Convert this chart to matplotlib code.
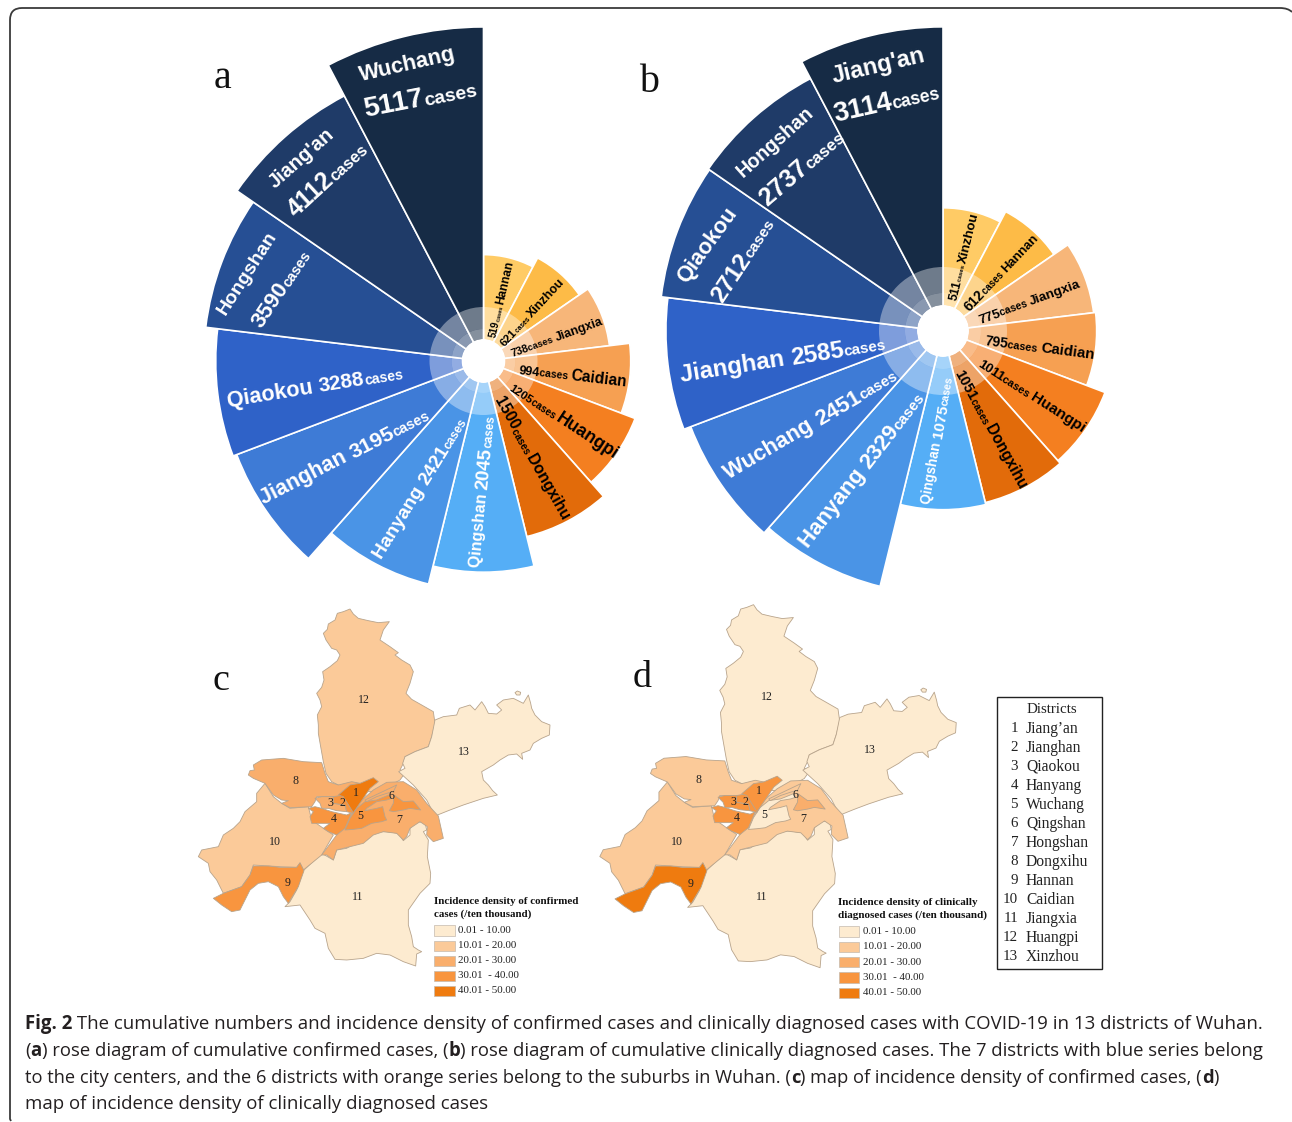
import numpy as np
import matplotlib
matplotlib.use("Agg")
import matplotlib.pyplot as plt
from matplotlib.font_manager import FontProperties
from matplotlib.patches import Polygon, Rectangle, PathPatch
from matplotlib.path import Path

# ---------- data ----------
districts_a = ["Hannan", "Xinzhou", "Jiangxia", "Caidian", "Huangpi", "Dongxihu", "Qingshan",
               "Hanyang", "Jianghan", "Qiaokou", "Hongshan", "Jiang'an", "Wuchang"]
cases_a = [519, 621, 738, 994, 1205, 1500, 2045, 2421, 3195, 3288, 3590, 4112, 5117]
districts_b = ["Xinzhou", "Hannan", "Jiangxia", "Caidian", "Huangpi", "Dongxihu", "Qingshan",
               "Hanyang", "Wuchang", "Jianghan", "Qiaokou", "Hongshan", "Jiang'an"]
cases_b = [511, 612, 775, 795, 1011, 1051, 1075, 2329, 2451, 2585, 2712, 2737, 3114]
rose_colors = ["#FFCB65", "#FDBB47", "#F7B679", "#F6A052", "#F47F20", "#E26B0A", "#55AEF6",
               "#4A94E6", "#3E7BD6", "#2F62C8", "#264F94", "#1F3B68", "#162B45"]
legend_labels = ["0.01 - 10.00", "10.01 - 20.00", "20.01 - 30.00", "30.01  - 40.00", "40.01 - 50.00"]
class_colors = ["#FDEBD0", "#FBCA99", "#F9AE6C", "#F8953F", "#EF7B0F"]
# density class of districts 1..13
density_c = [4, 3, 2, 3, 3, 3, 2, 2, 3, 1, 0, 1, 0]
density_d = [3, 3, 3, 3, 0, 2, 1, 1, 4, 1, 0, 0, 0]
district_names = ["Jiang\u2019an", "Jianghan", "Qiaokou", "Hanyang", "Wuchang", "Qingshan", "Hongshan",
                  "Dongxihu", "Hannan", "Caidian", "Jiangxia", "Huangpi", "Xinzhou"]

W, H = 1292, 1122
SANS, SERIF = "Liberation Sans", "Liberation Serif"
fig = plt.figure(figsize=(W / 100, H / 100), dpi=100, facecolor="white")
renderer = fig.canvas.get_renderer()


def rose(cx, cy, k, half, rings, values):
    ax = fig.add_axes([(cx - half) / W, 1 - (cy + half) / H, 2 * half / W, 2 * half / H],
                      projection="polar")
    ax.set_theta_zero_location("N")
    ax.set_theta_direction(-1)
    ax.set_rscale("function", functions=(np.sqrt, np.square))
    ax.set_ylim(0, (half / k) ** 2)
    n = len(values)
    step = 2 * np.pi / n
    ax.bar(np.arange(n) * step, values, width=step, align="edge", color=rose_colors,
           edgecolor="white", linewidth=1.2)
    hole, mid, outer = [(r / k) ** 2 for r in rings]
    ax.bar(0, outer - mid, width=2 * np.pi, bottom=mid, align="edge", color="white", alpha=0.38, lw=0)
    ax.bar(0, mid - hole, width=2 * np.pi, bottom=hole, align="edge", color="white", alpha=0.48, lw=0)
    ax.bar(0, hole, width=2 * np.pi, align="edge", color="white", lw=0)
    ax.set_axis_off()


rose(483.5, 361, 4.67, 345, (22, 32, 54), cases_a)
rose(943, 331, 5.45, 320, (26, 38, 64), cases_b)

px = fig.add_axes([0, 0, 1, 1], zorder=5)
px.set_xlim(0, W)
px.set_ylim(H, 0)
px.set_axis_off()
px.patch.set_alpha(0)


def adv(s, size, weight, family, style="normal"):
    fp = FontProperties(family=family, weight=weight, size=size * 0.72, style=style)
    w = lambda t: renderer.get_text_width_height_descent(t, fp, False)[0]
    return w("|" + s + "|") - w("||")


def run(p0, p1, parts, color="black", family=SANS, weight="bold", fit=True, baseline=False):
    """Lay out text parts (text, size[, weight]) adjacent along the line p0-p1."""
    p0, p1 = np.array(p0, float), np.array(p1, float)
    d = p1 - p0
    L = np.hypot(*d)
    d = d / L
    norm = np.array([-d[1], d[0]])
    parts = [(q[0], q[1], q[2] if len(q) > 2 else weight) for q in parts]
    total = sum(adv(t, s, w_, family) for t, s, w_ in parts)
    scale = L / total if fit else 1.0
    rot = np.degrees(np.arctan2(-d[1], d[0]))
    mx = max(s for _, s, _ in parts) * scale
    pos = p0 + (0 if baseline else 0.35 * mx) * norm
    for t, s, w_ in parts:
        s2 = s * scale
        px.text(pos[0], pos[1], t, fontsize=s2 * 0.72, fontweight=w_, family=family, color=color,
                rotation=rot, rotation_mode="anchor", ha="left", va="baseline")
        pos = pos + d * adv(t, s2, w_, family)


def rose_labels(names, vals, ox, layout):
    conv = lambda q: (q[0] / 3 + ox, q[1] / 2.74 + 20)
    for i, (nm, v, lay) in enumerate(zip(names, vals, layout)):
        col = "black" if i < 6 else "white"
        if i < 6:
            a, b, sv, sc, sn = lay
            run(conv(a), conv(b), [(str(v), sv), ("cases ", sc), (nm, sn)], col)
        elif i < 10:
            a, b, sn, sv, sc = lay
            run(conv(a), conv(b), [(nm + " ", sn), (str(v), sv), ("cases", sc)], col)
        else:
            a, b, c, e, sv, sc = lay
            run(conv(a), conv(b), [(nm, 20)], col)
            run(conv(c), conv(e), [(str(v), sv), ("cases", sc)], col)


rose_labels(districts_a, cases_a, 190, [
    ((905, 868), (958, 660), 9, 5, 11),
    ((935, 888), (1115, 712), 11, 6.5, 12),
    ((962, 912), (1235, 822), 11, 9.5, 12.5),
    ((988, 955), (1312, 990), 12, 10, 15),
    ((965, 1000), (1280, 1190), 11, 9.5, 17),
    ((925, 1035), (1130, 1365), 15, 9.5, 15),
    ((850, 1500), (893, 1085), 14.5, 17, 10.5),
    ((558, 1470), (815, 1090), 19, 19, 12),
    ((210, 1310), (710, 1075), 21, 20.8, 14),
    ((112, 1040), (640, 962), 21, 20, 13.7),
    ((90, 800), (245, 580), (195, 835), (345, 630), 21, 13.5),
    ((240, 450), (420, 305), (300, 525), (520, 340), 24, 16),
    ((507, 148), (795, 88), (520, 240), (858, 180), 26, 18),
])
rose_labels(districts_b, cases_b, 650, [
    ((905, 768), (970, 530), 12, 6, 13),
    ((948, 790), (1155, 590), 13, 9, 12),
    ((985, 820), (1288, 720), 13, 10, 13),
    ((1005, 875), (1332, 915), 13, 10, 14),
    ((990, 935), (1305, 1120), 12, 10, 14),
    ((928, 960), (1120, 1280), 14, 9.5, 15),
    ((825, 1325), (893, 975), 11.5, 13, 9),
    ((455, 1435), (808, 1020), 22, 22, 15),
    ((225, 1240), (735, 965), 22, 22, 15),
    ((90, 970), (705, 880), 22, 22, 14),
    ((90, 710), (245, 515), (195, 765), (355, 545), 21, 13.5),
    ((265, 420), (480, 245), (335, 495), (570, 310), 24, 16),
    ((545, 150), (825, 90), (550, 255), (868, 190), 25, 16),
])

# ---------- map outlines (traced, in crop pixels) ----------
z5 = lambda pts: [(x, y + 420) for x, y in pts]
z6 = lambda pts: [(x + 330, y) for x, y in pts]
shapes = {
    12: z6([(150, 27), (130, 35), (112, 40), (105, 60), (85, 72), (82, 88), (70, 100), (78, 120), (95, 145),
            (110, 150), (120, 165), (112, 182), (90, 200), (68, 215), (72, 240), (65, 262), (50, 280), (60, 300),
            (65, 320), (52, 345), (55, 375), (55, 400), (62, 440), (70, 485), (78, 520), (95, 545), (125, 560),
            (150, 575), (235, 575), (300, 540), (318, 515), (300, 510), (310, 490), (315, 470), (345, 455),
            (385, 440), (395, 410), (405, 370), (400, 335), (365, 315), (335, 298), (318, 280), (330, 250),
            (340, 215), (330, 195), (305, 180), (285, 165), (295, 158), (270, 140), (240, 120), (250, 90),
            (268, 65), (235, 68), (205, 62), (175, 55), (160, 42)]),
    13: z6([(405, 360), (430, 350), (470, 345), (478, 325), (510, 315), (525, 330), (545, 305), (555, 320),
            (565, 340), (590, 342), (605, 330), (590, 315), (610, 300), (640, 295), (670, 310), (685, 285),
            (692, 310), (695, 325), (705, 345), (725, 365), (750, 375), (748, 405), (725, 415), (700, 430),
            (690, 450), (665, 460), (668, 478), (650, 462), (625, 465), (600, 480), (580, 495), (545, 515),
            (550, 540), (565, 555), (578, 572), (592, 585), (550, 595), (490, 615), (450, 630), (405, 648),
            (380, 600), (340, 555), (296, 515), (315, 505), (308, 490), (315, 470), (345, 455), (385, 440),
            (395, 410)]),
    "island": z6([(645, 278), (652, 273), (662, 277), (660, 285), (650, 285)]),
    11: [(340, 812), (395, 760), (430, 780), (440, 750), (470, 745), (495, 730), (530, 720), (555, 695), (590, 695),
         (625, 700), (640, 722), (660, 705), (660, 685), (680, 665), (705, 668), (710, 690), (700, 695), (715, 720),
         (712, 770), (722, 820), (720, 850), (690, 880), (655, 930), (655, 975), (665, 1010), (670, 1040),
         (685, 1050), (695, 1055), (680, 1062), (677, 1098), (640, 1085), (600, 1065), (560, 1060), (520, 1075),
         (470, 1080), (435, 1078), (415, 1045), (405, 1000), (375, 985), (360, 960), (330, 915), (285, 920),
         (300, 905), (320, 870)],
    10: z5([(25, 350), (35, 330), (85, 320), (100, 285), (130, 265), (150, 245), (165, 215), (200, 185), (200, 160),
            (225, 130), (250, 170), (275, 190), (300, 205), (355, 200), (365, 240), (400, 265), (430, 285),
            (395, 345), (340, 390), (330, 370), (320, 382), (270, 380), (190, 375), (180, 405), (155, 440),
            (100, 460), (90, 440), (80, 420), (60, 395), (55, 370)]),
    8: z5([(190, 75), (215, 60), (280, 55), (340, 65), (395, 68), (405, 100), (415, 125), (445, 135), (485, 125),
           (510, 130), (480, 170), (420, 170), (380, 170), (375, 185), (365, 200), (300, 203), (275, 190), (295, 182),
           (275, 180), (250, 165), (225, 130), (190, 115), (175, 105), (180, 92), (193, 90)]),
    9: z5([(190, 378), (235, 378), (270, 382), (320, 382), (330, 368), (342, 392), (325, 440), (295, 490), (280, 470),
           (265, 440), (235, 425), (205, 430), (180, 450), (150, 510), (125, 515), (95, 495), (70, 475), (100, 460),
           (155, 440), (180, 405)]),
    7: z5([(395, 345), (440, 285), (480, 230), (510, 185), (550, 150), (590, 127), (640, 125), (680, 150), (710, 190),
           (745, 228), (760, 295), (730, 305), (710, 285), (712, 260), (690, 245), (660, 265), (650, 290), (640, 300),
           (620, 280), (580, 275), (550, 285), (520, 310), (480, 320), (440, 330), (430, 360), (410, 345)]),
    5: z5([(465, 270), (480, 235), (500, 205), (525, 185), (560, 180), (597, 165), (605, 175), (590, 180), (560, 185),
           (530, 205), (525, 212), (560, 205), (578, 200), (585, 230), (590, 240), (575, 245), (545, 250), (515, 265),
           (490, 268)]),
    6: z5([(598, 212), (610, 190), (612, 165), (640, 185), (670, 183), (692, 210), (660, 205), (640, 210), (610, 215)]),
    4: z5([(355, 205), (375, 200), (395, 205), (425, 215), (470, 225), (485, 218), (465, 265), (440, 285), (415, 275),
           (400, 265), (420, 250), (365, 250), (360, 230), (370, 215)]),
    3: z5([(375, 175), (395, 170), (430, 170), (430, 190), (465, 195), (470, 215), (440, 212), (415, 205), (395, 205),
           (390, 190)]),
    2: z5([(430, 170), (460, 165), (495, 205), (490, 220), (470, 215), (465, 195), (430, 190)]),
    1: z5([(445, 165), (480, 135), (510, 130), (550, 113), (565, 125), (540, 145), (520, 175), (490, 218), (460, 170)]),
}
sliver = z5([(525, 180), (620, 135), (610, 155), (590, 160), (560, 170), (530, 185)])
draw_order = [12, 13, "island", 11, 10, 8, 9, 7, 5, 6, 4, 3, 2, 1]
num_c = {1: (497, 578), 2: (457, 610), 3: (420, 610), 4: (430, 657), 5: (512, 648), 6: (603, 587), 7: (627, 660),
         8: (317, 543), 9: (293, 850), 10: (254, 727), 11: (503, 890), 12: (521, 300), 13: (823, 457)}
EDGE = "#B8A48C"


def draw_map(density, tf):
    for key in draw_order:
        pts = np.array([tf(x, y) for x, y in shapes[key]])
        dclass = density[(13 if key == "island" else key) - 1]
        px.add_patch(Polygon(pts, closed=True, fc=class_colors[dclass], ec=EDGE, lw=0.6, joinstyle="round"))
    pts = np.array([tf(x, y) for x, y in sliver])
    px.add_patch(Polygon(pts, closed=True, fc=class_colors[density[6]], ec=EDGE, lw=0.6, joinstyle="round"))
    for k, (x, y) in num_c.items():
        X, Y = tf(x, y)
        px.text(X, Y, str(k), family=SERIF, fontsize=8.6, ha="center", va="center", color="#222222")


draw_map(density_c, lambda x, y: (190 + x / 3, 600 + y / 3))
draw_map(density_d, lambda x, y: (590 + (75 + (x - 70) * 1.0136) / 3, 600 + (15 + (y - 28) * 1.017) / 3))


def map_legend(x, title1, title2, xend1, xend2, ys, tx):
    run((x, ys[0] - 30), (xend1, ys[0] - 30), [(title1, 11)], "#111111", SERIF)
    run((x, ys[0] - 17), (xend2, ys[0] - 17), [(title2, 11)], "#111111", SERIF)
    for y, lab, col in zip(ys, legend_labels, class_colors):
        px.add_patch(Rectangle((x, y - 5.2), 20.5, 10.4, fc=col, ec="#C4BAAE", lw=0.5))
        px.text(tx, y, lab, family=SERIF, fontsize=7.9, ha="left", va="center", color="#222222")


map_legend(434, "Incidence density of confirmed", "cases (/ten thousand)", 578.5, 531.5,
           [930.3, 945.7, 960.7, 975.7, 990.7], 457.7)
map_legend(838.5, "Incidence density of clinically", "diagnosed cases (/ten thousand)", 979, 988.5,
           [931.3, 946.7, 962, 977.3, 992.7], 862.7)

# districts box
px.add_patch(Rectangle((997.3, 696.7), 104.4, 272.6, fc="white", ec="#222222", lw=1.0))
px.text(1051.7, 709.3, "Districts", family=SERIF, fontsize=10.8, ha="center", va="center", color="#222222")
for i, nm in enumerate(district_names):
    y = 728.7 + i * 19.0
    px.text(1018, y, str(i + 1), family=SERIF, fontsize=10.8, ha="right", va="center", color="#222222")
    px.text(1026, y, nm, family=SERIF, fontsize=11.2, ha="left", va="center", color="#222222")

# panel letters
for t, x, y, s in [("a", 214, 88, 40), ("b", 639, 92, 40), ("c", 212, 690, 38), ("d", 633, 687, 38)]:
    px.text(x, y, t, family=SERIF, fontsize=s * 0.72, ha="left", va="baseline", color="#111111")

# caption
CAP = "Open Sans"
capcol = "#231F20"
run((25, 1029), (1267, 1029), [("Fig. 2", 17, "bold"),
    (" The cumulative numbers and incidence density of confirmed cases and clinically diagnosed cases with COVID-19 in 13 districts of Wuhan.", 17, "normal")],
    capcol, CAP, baseline=True)
run((25, 1056), (1267, 1056), [("(", 17, "normal"), ("a", 17, "bold"),
    (") rose diagram of cumulative confirmed cases, (", 17, "normal"), ("b", 17, "bold"),
    (") rose diagram of cumulative clinically diagnosed cases. The 7 districts with blue series belong", 17, "normal")],
    capcol, CAP, baseline=True)
run((25, 1083), (1222, 1083), [("to the city centers, and the 6 districts with orange series belong to the suburbs in Wuhan. (", 17, "normal"),
    ("c", 17, "bold"), (") map of incidence density of confirmed cases, (", 17, "normal"), ("d", 17, "bold"), (")", 17, "normal")],
    capcol, CAP, baseline=True)
run((25, 1109), (490, 1109), [("map of incidence density of clinically diagnosed cases", 17, "normal")],
    capcol, CAP, baseline=True)

# frame
verts = [(11, 1121), (10, 1119), (10, 1100), (10, 20), (10, 8), (22, 8), (1280, 8), (1288, 8), (1292, 12)]
codes = [Path.MOVETO, Path.LINETO, Path.LINETO, Path.LINETO, Path.CURVE3, Path.CURVE3, Path.LINETO, Path.CURVE3, Path.CURVE3]
px.add_patch(PathPatch(Path(verts, codes), fc="none", ec="#3A3A3A", lw=1.3))

fig.savefig("out.png", dpi=100, facecolor="white")
